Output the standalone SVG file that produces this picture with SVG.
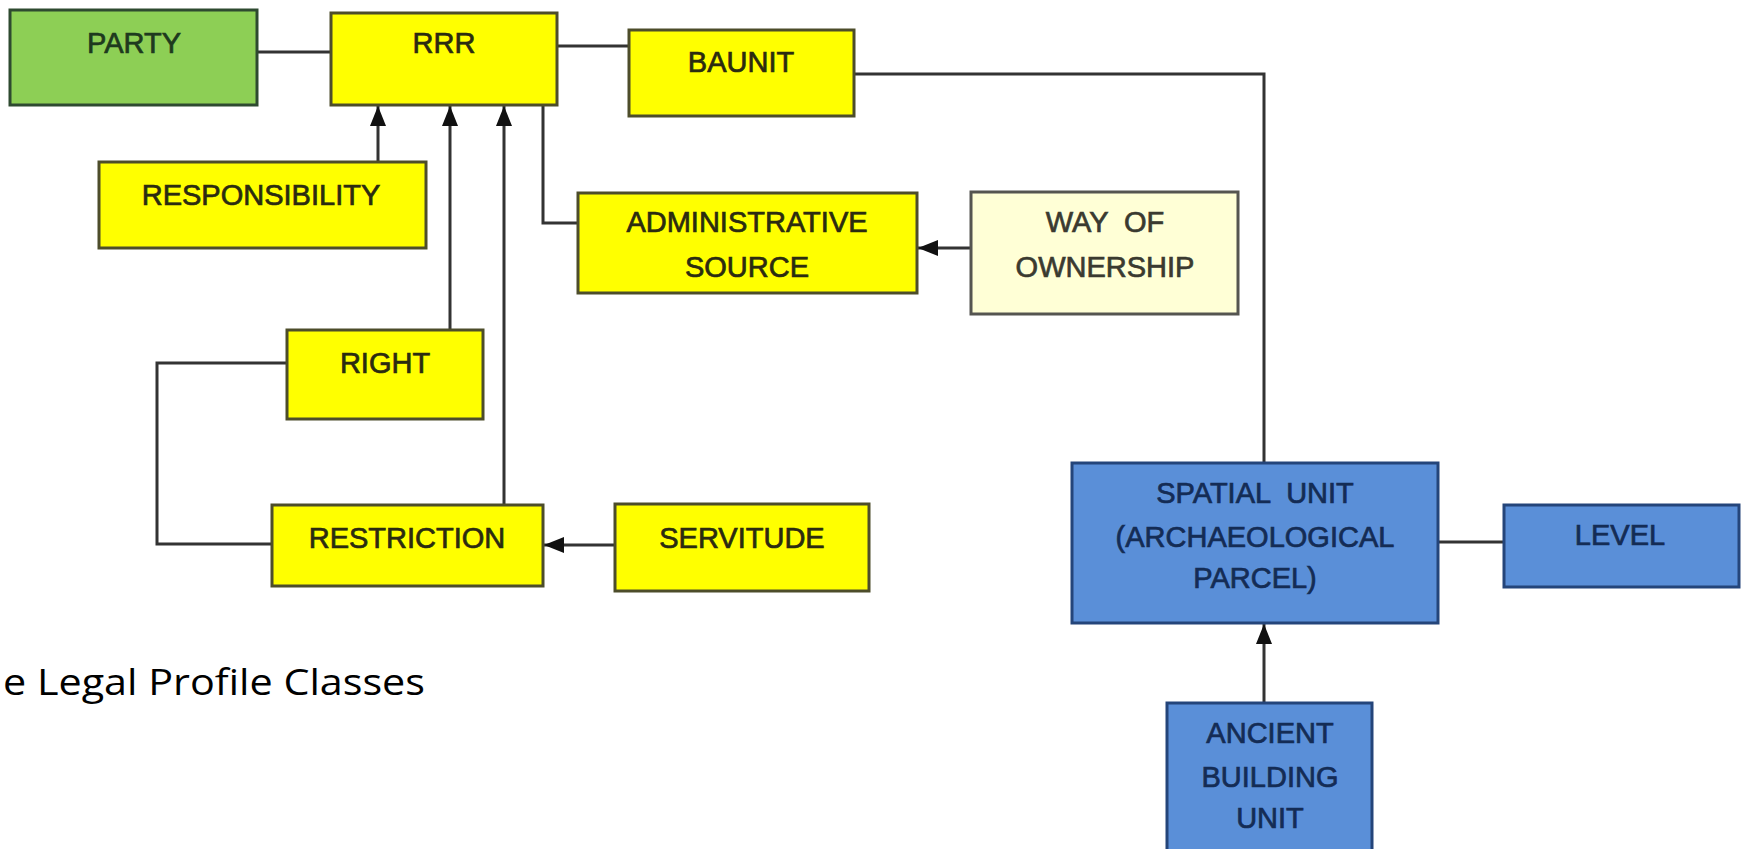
<svg xmlns="http://www.w3.org/2000/svg" width="1747" height="849" viewBox="0 0 1747 849">
<style>
  .box { stroke-width: 3; }
  .yellow { fill: #ffff00; stroke: #4d4d2a; }
  .green { fill: #8dcf55; stroke: #2e4a30; }
  .cream { fill: #ffffd6; stroke: #555550; }
  .blue { fill: #5a8fd8; stroke: #24457a; }
  .lbl { font-family: "Liberation Sans", Arial, sans-serif; font-size: 29px; text-anchor: middle; stroke-width: 0.7px; }
  .dk { fill: #2b2b10; stroke: #2b2b10; }
  .nv { fill: #142c55; stroke: #142c55; }
  .gr { fill: #1e3a1e; stroke: #1e3a1e; }
  .cr { fill: #3a3a30; stroke: #3a3a30; }
  .conn { fill: none; stroke: #333333; stroke-width: 3; }
  .cap { font-family: "Open Sans", "Liberation Sans", sans-serif; font-size: 37px; fill: #000; }
</style>
<defs>
  <marker id="arr" markerUnits="userSpaceOnUse" markerWidth="20" markerHeight="16" refX="20" refY="8" orient="auto">
    <path d="M0,0 L20,8 L0,16 Z" fill="#111"/>
  </marker>
</defs>
<rect width="1747" height="849" fill="#ffffff"/>

<g id="connectors">
  <line class="conn" x1="257" y1="52" x2="331" y2="52"/>
  <line class="conn" x1="557" y1="46" x2="629" y2="46"/>
  <polyline class="conn" points="854,74 1264,74 1264,463"/>
  <polyline class="conn" points="543,105 543,223 578,223"/>
  <line class="conn" x1="378" y1="162" x2="378" y2="106" marker-end="url(#arr)"/>
  <line class="conn" x1="450" y1="330" x2="450" y2="106" marker-end="url(#arr)"/>
  <line class="conn" x1="504" y1="505" x2="504" y2="106" marker-end="url(#arr)"/>
  <polyline class="conn" points="287,363 157,363 157,544 272,544"/>
  <line class="conn" x1="971" y1="248" x2="918" y2="248" marker-end="url(#arr)"/>
  <line class="conn" x1="615" y1="545" x2="544" y2="545" marker-end="url(#arr)"/>
  <line class="conn" x1="1438" y1="542" x2="1504" y2="542"/>
  <line class="conn" x1="1264" y1="703" x2="1264" y2="624" marker-end="url(#arr)"/>
</g>

<g id="party">
  <rect class="box green" x="10" y="10" width="247" height="95"/>
  <text class="lbl gr" x="134" y="53">PARTY</text>
</g>
<g id="rrr">
  <rect class="box yellow" x="331" y="13" width="226" height="92"/>
  <text class="lbl dk" x="444" y="53">RRR</text>
</g>
<g id="baunit">
  <rect class="box yellow" x="629" y="30" width="225" height="86"/>
  <text class="lbl dk" x="741" y="72">BAUNIT</text>
</g>
<g id="responsibility">
  <rect class="box yellow" x="99" y="162" width="327" height="86"/>
  <text class="lbl dk" x="261" y="205">RESPONSIBILITY</text>
</g>
<g id="administrative-source">
  <rect class="box yellow" x="578" y="193" width="339" height="100"/>
  <text class="lbl dk" x="747" y="232">ADMINISTRATIVE</text>
  <text class="lbl dk" x="747" y="277">SOURCE</text>
</g>
<g id="way-of-ownership">
  <rect class="box cream" x="971" y="192" width="267" height="122"/>
  <text class="lbl cr" x="1105" y="232" xml:space="preserve">WAY  OF</text>
  <text class="lbl cr" x="1105" y="277">OWNERSHIP</text>
</g>
<g id="right">
  <rect class="box yellow" x="287" y="330" width="196" height="89"/>
  <text class="lbl dk" x="385" y="373">RIGHT</text>
</g>
<g id="restriction">
  <rect class="box yellow" x="272" y="505" width="271" height="81"/>
  <text class="lbl dk" x="407" y="548">RESTRICTION</text>
</g>
<g id="servitude">
  <rect class="box yellow" x="615" y="504" width="254" height="87"/>
  <text class="lbl dk" x="742" y="548">SERVITUDE</text>
</g>
<g id="spatial-unit">
  <rect class="box blue" x="1072" y="463" width="366" height="160"/>
  <text class="lbl nv" x="1255" y="503" xml:space="preserve">SPATIAL  UNIT</text>
  <text class="lbl nv" x="1255" y="547">(ARCHAEOLOGICAL</text>
  <text class="lbl nv" x="1255" y="588">PARCEL)</text>
</g>
<g id="level">
  <rect class="box blue" x="1504" y="505" width="235" height="82"/>
  <text class="lbl nv" x="1620" y="545">LEVEL</text>
</g>
<g id="ancient-building-unit">
  <rect class="box blue" x="1167" y="703" width="205" height="160"/>
  <text class="lbl nv" x="1270" y="743">ANCIENT</text>
  <text class="lbl nv" x="1270" y="787">BUILDING</text>
  <text class="lbl nv" x="1270" y="828">UNIT</text>
</g>

<text class="cap" x="3" y="695" textLength="422" lengthAdjust="spacingAndGlyphs">e Legal Profile Classes</text>
</svg>
